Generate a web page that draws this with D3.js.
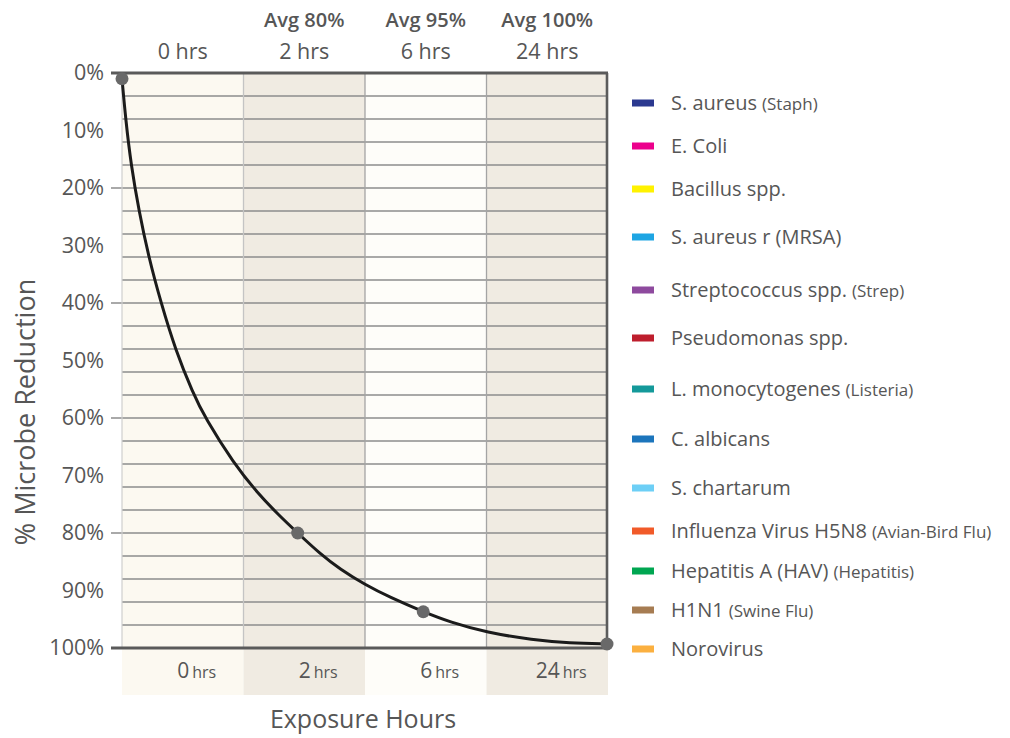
<!DOCTYPE html>
<html>
<head>
<meta charset="utf-8">
<script src="https://cdn.jsdelivr.net/npm/d3@7/dist/d3.min.js"></script>
<style>
  html, body { margin: 0; padding: 0; background: #fff; }
  svg { display: block; font-family: "Open Sans", "Noto Sans", sans-serif; }
</style>
</head>
<body>
<svg id="chart" width="1010" height="738"></svg>
<script>
// ── data ─────────────────────────────────────────
const hours       = [0, 2, 6, 24];
const hourLabels  = ["0 hrs", "2 hrs", "6 hrs", "24 hrs"];
const avgLabels   = ["", "Avg 80%", "Avg 95%", "Avg 100%"];
const dotReduction = [1, 80, 93.7, 99.3];

// curve (hours, % reduction)
const curveHours     = [0, 0.022, 0.054, 0.104, 0.169, 0.259, 0.375, 0.529, 0.651, 0.979, 1.31, 1.65, 2, 2.48, 2.98, 3.71, 4.58, 6, 7.41, 9.83, 13.9, 18.3, 24];
const curveReduction = [1, 8.2, 16, 24, 32, 40, 48.2, 55.6, 60, 67.9, 73.1, 76.9, 80, 83.6, 86.3, 89, 91.2, 93.7, 95.5, 97.3, 98.6, 99.15, 99.3];

const legendNames  = ["S. aureus", "E. Coli", "Bacillus spp.", "S. aureus r (MRSA)", "Streptococcus spp.",
  "Pseudomonas spp.", "L. monocytogenes", "C. albicans", "S. chartarum", "Influenza Virus H5N8",
  "Hepatitis A (HAV)", "H1N1", "Norovirus"];
const legendNotes  = ["(Staph)", "", "", "", "(Strep)", "", "(Listeria)", "", "",
  "(Avian-Bird Flu)", "(Hepatitis)", "(Swine Flu)", ""];
const legendColors = ["#2b3990", "#ec008c", "#fff200", "#1ea5e3", "#8e4a9e", "#be1e2d", "#14999a",
  "#1c75bc", "#6dcff6", "#f15a29", "#00a651", "#a67c52", "#fbb040"];

// ── layout ───────────────────────────────────────
const PLOT = { left: 122, right: 607, top: 73, bottom: 648 };
const legendRowY = [103, 146, 189, 237, 290, 338, 389, 439, 488, 531, 571, 610, 649];
const TEXT = "#565656";

const svg = d3.select("#chart");

const band = d3.scaleBand().domain(hourLabels).range([PLOT.left, PLOT.right + 1]).padding(0);
const x = d3.scaleSymlog().constant(0.82).domain([0, 24]).range([PLOT.left, PLOT.right]);
const y = d3.scaleLinear().domain([0, 100]).range([PLOT.top, PLOT.bottom]);

/* ── column backgrounds ── */
const colFill = ["#fcf9f1", "#f0ebe2", "#fefdf9", "#f0ebe2"];
svg.append("g").selectAll("rect")
  .data(hourLabels)
  .join("rect")
  .attr("x", d => band(d))
  .attr("y", PLOT.top)
  .attr("width", band.bandwidth())
  .attr("height", 695 - PLOT.top)
  .attr("fill", (d, i) => colFill[i]);

/* ── horizontal grid (every 4%), ticks at 20% ── */
const grid = d3.range(4, 100, 4);
svg.append("g").selectAll("line")
  .data(grid)
  .join("line")
  .attr("x1", d => d % 20 === 0 ? 111 : PLOT.left)
  .attr("x2", PLOT.right)
  .attr("y1", d => y(d)).attr("y2", d => y(d))
  .attr("stroke", "#8d8d8d")
  .attr("stroke-width", 1.6);

/* ── vertical separators ── */
svg.append("line")
  .attr("x1", PLOT.left).attr("x2", PLOT.left)
  .attr("y1", PLOT.top).attr("y2", PLOT.bottom)
  .attr("stroke", "#cfcfcf").attr("stroke-width", 1.2);
svg.append("g").selectAll("line")
  .data(hourLabels.slice(1))
  .join("line")
  .attr("x1", d => band(d)).attr("x2", d => band(d))
  .attr("y1", PLOT.top).attr("y2", PLOT.bottom)
  .attr("stroke", (d, i) => i === 0 ? "#c4c4c4" : "#a4a4a4")
  .attr("stroke-width", 1.3);
svg.append("line")
  .attr("x1", PLOT.right).attr("x2", PLOT.right)
  .attr("y1", PLOT.top).attr("y2", PLOT.bottom)
  .attr("stroke", "#5c5c5c").attr("stroke-width", 2.6);

/* ── top / bottom heavy rules ── */
svg.append("g").selectAll("line")
  .data([0, 100])
  .join("line")
  .attr("x1", 111).attr("x2", PLOT.right + 1)
  .attr("y1", d => y(d)).attr("y2", d => y(d))
  .attr("stroke", "#5a5a5a")
  .attr("stroke-width", 3.2);

/* ── y axis labels ── */
const yAxis = svg.append("g")
  .attr("transform", `translate(${PLOT.left},0)`)
  .call(d3.axisLeft(y).tickValues(d3.range(0, 101, 10)).tickSize(0).tickPadding(18)
    .tickFormat(d => d + "%"));
yAxis.select(".domain").remove();
yAxis.selectAll("text")
  .attr("fill", TEXT)
  .attr("font-size", 21.5)
  .attr("font-family", "'Open Sans', sans-serif");

svg.append("text")
  .attr("transform", "translate(35,412) rotate(-90)")
  .attr("text-anchor", "middle")
  .attr("fill", TEXT)
  .attr("font-size", 27)
  .text("% Microbe Reduction");

/* ── header labels ── */
svg.append("g").selectAll("text")
  .data(avgLabels)
  .join("text")
  .attr("x", (d, i) => band(hourLabels[i]) + band.bandwidth() / 2)
  .attr("y", 27)
  .attr("text-anchor", "middle")
  .attr("fill", TEXT)
  .attr("font-size", 20)
  .attr("font-weight", 600)
  .text(d => d);

svg.append("g").selectAll("text")
  .data(hourLabels)
  .join("text")
  .attr("x", d => band(d) + band.bandwidth() / 2)
  .attr("y", 59)
  .attr("text-anchor", "middle")
  .attr("fill", TEXT)
  .attr("font-size", 21.5)
  .text(d => d);

/* ── bottom labels ── */
const bottom = svg.append("g").selectAll("text")
  .data(hours)
  .join("text")
  .attr("x", (d, i) => band(hourLabels[i]) + band.bandwidth() / 2 + 14)
  .attr("y", 678)
  .attr("text-anchor", "middle")
  .attr("fill", TEXT);
bottom.append("tspan").attr("font-size", 21).text(d => d);
bottom.append("tspan").attr("font-size", 16).attr("dx", 3).text("hrs");

svg.append("text")
  .attr("x", 363).attr("y", 728)
  .attr("text-anchor", "middle")
  .attr("fill", TEXT)
  .attr("font-size", 25)
  .text("Exposure Hours");

/* ── curve + dots ── */
const line = d3.line()
  .x(d => x(d[0]))
  .y(d => y(d[1]))
  .curve(d3.curveBasis);

svg.append("path")
  .datum(d3.zip(curveHours, curveReduction))
  .attr("d", line)
  .attr("fill", "none")
  .attr("stroke", "#1b1b1b")
  .attr("stroke-width", 3);

svg.append("g").selectAll("circle")
  .data(d3.zip(hours, dotReduction))
  .join("circle")
  .attr("cx", d => x(d[0]))
  .attr("cy", d => y(d[1]))
  .attr("r", 6.5)
  .attr("fill", "#696969");

/* ── legend ── */
const leg = svg.append("g").selectAll("g")
  .data(legendNames)
  .join("g")
  .attr("transform", (d, i) => `translate(632,${legendRowY[i]})`);

leg.append("rect")
  .attr("x", 0).attr("y", -3.5)
  .attr("width", 22).attr("height", 7)
  .attr("fill", (d, i) => legendColors[i]);

const legText = leg.append("text")
  .attr("x", 39).attr("y", 7)
  .attr("fill", TEXT);
legText.append("tspan").attr("font-size", 20).text(d => d);
legText.append("tspan").attr("font-size", 17).attr("dx", 5)
  .text((d, i) => legendNotes[i]);
</script>
</body>
</html>
